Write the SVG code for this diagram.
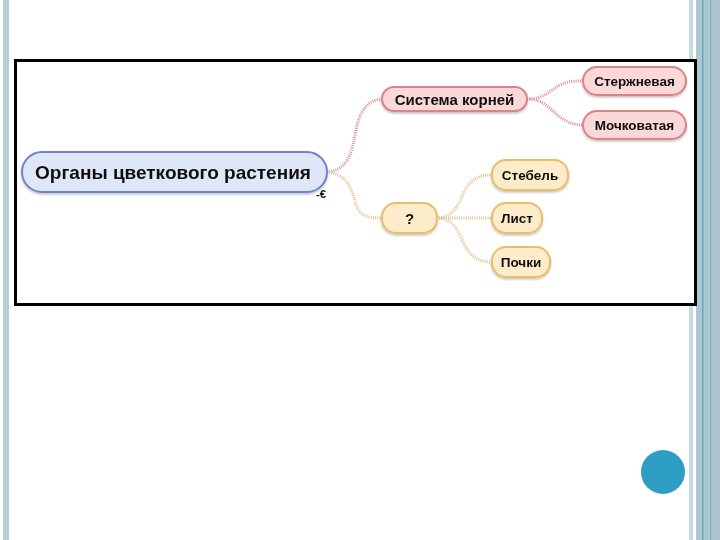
<svg xmlns="http://www.w3.org/2000/svg" width="720" height="540" viewBox="0 0 720 540">
<defs>
<filter id="sh" x="-10%" y="-20%" width="120%" height="150%">
<feDropShadow dx="0" dy="1.5" stdDeviation="1.2" flood-color="#000" flood-opacity="0.25"/>
</filter>
</defs>
<style>
.t{font-family:"Liberation Sans",Arial,sans-serif;font-weight:bold;fill:#111;text-anchor:middle;dominant-baseline:central}
.root{fill:#dfe6f8;stroke:#6f84cc;stroke-width:2}
.pink{fill:#fad7d9;stroke:#d9848a;stroke-width:2}
.org{fill:#fdecc9;stroke:#e9bd6c;stroke-width:2}
.cp{fill:none;stroke:#d98f98;stroke-width:3;stroke-dasharray:1 1.2}
.co{fill:none;stroke:#e2c290;stroke-width:3;stroke-dasharray:1 1.2}
</style>
<rect width="720" height="540" fill="#fff"/>
<rect x="3" y="0" width="6" height="540" fill="#b4d0da"/>
<rect x="689" y="0" width="4" height="540" fill="#c5dce3"/>
<rect x="696" y="0" width="24" height="540" fill="#a9c8d4"/>
<rect x="702" y="0" width="1.5" height="540" fill="#6fa3b3"/>
<rect x="710" y="0" width="1.5" height="540" fill="#8bb2c0"/>
<rect x="712" y="0" width="8" height="540" fill="#aac3cf"/>
<rect x="15.5" y="60.5" width="680" height="244" fill="#fff" stroke="#000" stroke-width="3"/>
<g id="connectors">
<path class="cp" d="M329,172 C350,168 352,150 356,130 C360,110 368,100 382,99"/>
<path class="co" d="M329,172 C350,176 352,192 356,205 C360,216 368,218 382,218"/>
<path class="cp" d="M527,99 C545,99 550,90 560,85 C568,81 575,81 583,81"/>
<path class="cp" d="M527,99 C545,99 550,110 560,117 C568,123 575,125 583,125"/>
<path class="co" d="M437,218 C455,218 460,200 465,190 C472,178 480,175 492,175"/>
<path class="co" d="M437,218 L492,218"/>
<path class="co" d="M437,218 C455,218 460,236 465,246 C472,258 480,262 492,262"/>
</g>
<g id="root" filter="url(#sh)">
<rect class="root" x="22" y="152" width="305" height="40" rx="20"/>
<text class="t" x="173" y="172" font-size="19">Органы цветкового растения</text>
</g>
<text x="316" y="198" font-family="Liberation Sans,Arial,sans-serif" font-weight="bold" font-size="11" fill="#111">-€</text>
<g id="n-roots" filter="url(#sh)">
<rect class="pink" x="382" y="87" width="145" height="24" rx="12"/>
<text class="t" x="454.5" y="99" font-size="15">Система корней</text>
</g>
<g id="n-tap" filter="url(#sh)">
<rect class="pink" x="583" y="67" width="103" height="28" rx="14"/>
<text class="t" x="634.5" y="81" font-size="13.5">Стержневая</text>
</g>
<g id="n-fib" filter="url(#sh)">
<rect class="pink" x="583" y="111" width="103" height="28" rx="14"/>
<text class="t" x="634.5" y="125" font-size="13.5">Мочковатая</text>
</g>
<g id="n-q" filter="url(#sh)">
<rect class="org" x="382" y="203" width="55" height="30" rx="14"/>
<text class="t" x="409.5" y="218" font-size="15">?</text>
</g>
<g id="n-stem" filter="url(#sh)">
<rect class="org" x="492" y="160" width="76" height="30" rx="14"/>
<text class="t" x="530" y="175" font-size="13.5">Стебель</text>
</g>
<g id="n-leaf" filter="url(#sh)">
<rect class="org" x="492" y="203" width="50" height="30" rx="14"/>
<text class="t" x="517" y="218" font-size="13.5">Лист</text>
</g>
<g id="n-buds" filter="url(#sh)">
<rect class="org" x="492" y="247" width="58" height="30" rx="14"/>
<text class="t" x="521" y="262" font-size="13.5">Почки</text>
</g>
<circle cx="663" cy="472" r="22" fill="#2e9fc2"/>
</svg>
